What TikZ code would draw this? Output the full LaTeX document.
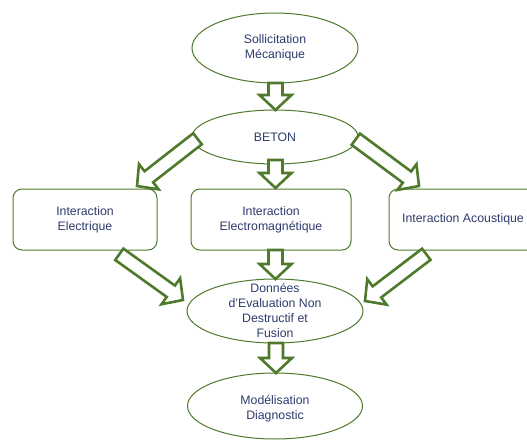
\documentclass[tikz,border=0pt]{standalone}
\usepackage{fontspec}
\setmainfont{Liberation Sans}
\usetikzlibrary{calc,shapes.geometric}
\definecolor{gr}{HTML}{4F7A2C}
\definecolor{tx}{HTML}{2F3B6C}
\newcommand\blockarrow[2]{%
  \coordinate (hb) at ($(#2)!15pt!(#1)$);
  \draw[barrow] ($(#1)!7pt!90:(#2)$) -- ($(hb)!7pt!90:(#2)$) -- ($(hb)!16pt!90:(#2)$) -- (#2)
    -- ($(hb)!16pt!-90:(#2)$) -- ($(hb)!7pt!-90:(#2)$) -- ($(#1)!7pt!-90:(#2)$) -- cycle;}
\begin{document}
\begin{tikzpicture}[x=1pt,y=-1pt,
  ell/.style={draw=gr, line width=1pt, ellipse, inner sep=0pt, fill=white},
  box/.style={draw=gr, line width=1pt, rectangle, rounded corners=9pt, inner sep=0pt, fill=white},
  txt/.style={text=tx, align=center, font=\fontsize{12.3}{15}\selectfont, inner sep=0pt},
  barrow/.style={draw=gr, line width=2.6pt, fill=white, line join=miter}]
\useasboundingbox (0,0) rectangle (527,441);
% nodes
\node[ell, minimum width=166pt, minimum height=70pt] (sol) at (275,48) {};
\node[txt] (solT) at (sol.center) {Sollicitation\\Mécanique};
\node[ell, minimum width=166pt, minimum height=54pt] (beton) at (275,137) {};
\node[txt] (betonT) at (beton.center) {BETON};
\node[box, minimum width=144pt, minimum height=61pt] (elec) at (85,219.5) {};
\node[txt] (elecT) at (elec.center) {Interaction\\Electrique};
\node[box, minimum width=160pt, minimum height=61pt] (em) at (271,219.5) {};
\node[txt] (emT) at (em.center) {Interaction\\Electromagnétique};
\node[box, minimum width=148pt, minimum height=61pt] (acou) at (463,219.5) {};
\node[txt] (acouT) at (acou.center) {Interaction Acoustique};
\node[ell, minimum width=176pt, minimum height=64pt] (don) at (275,311) {};
\node[txt] (donT) at (don.center) {Données\\d’Evaluation Non\\Destructif et\\Fusion};
\node[ell, minimum width=175pt, minimum height=66pt] (mod) at (275,406) {};
\node[txt] (modT) at ([yshift=-3pt]mod.center) {Modélisation\\Diagnostic};
% arrow anchors
\coordinate (a1s) at (275.5,83);   \coordinate (a1e) at (275.5,110);
\coordinate (a2s) at (275.5,160);  \coordinate (a2e) at (275.5,188);
\coordinate (a3s) at (275.5,250);  \coordinate (a3e) at (275.5,279);
\coordinate (a4s) at (276,343);    \coordinate (a4e) at (276,373);
\coordinate (d1s) at (197.5,138.8); \coordinate (d1e) at (137,186);
\coordinate (d2s) at (355.8,139.2); \coordinate (d2e) at (419,186);
\coordinate (d3s) at (119.3,254.3); \coordinate (d3e) at (183,300);
\coordinate (d4s) at (426.3,254.3); \coordinate (d4e) at (365,301);
\blockarrow{a1s}{a1e}
\blockarrow{a2s}{a2e}
\blockarrow{a3s}{a3e}
\blockarrow{a4s}{a4e}
\blockarrow{d1s}{d1e}
\blockarrow{d2s}{d2e}
\blockarrow{d3s}{d3e}
\blockarrow{d4s}{d4e}
\end{tikzpicture}
\end{document}
